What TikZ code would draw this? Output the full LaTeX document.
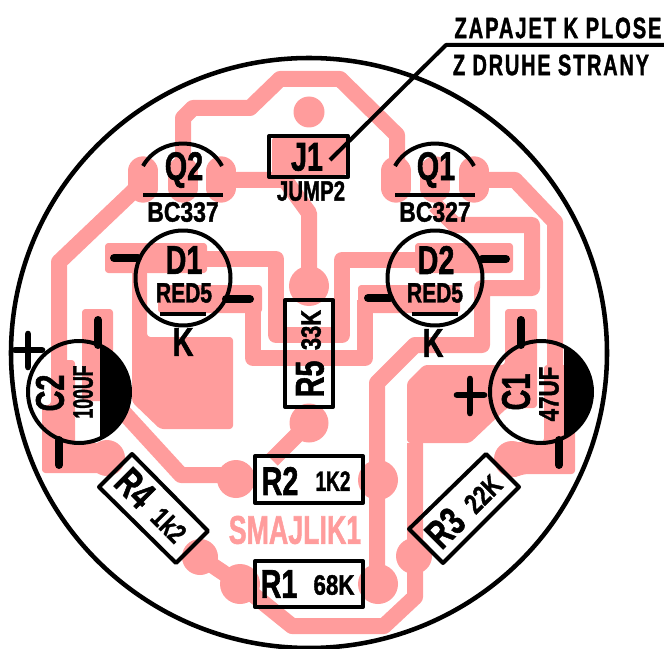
\documentclass[tikz,border=0pt]{standalone}
\usepackage{fontspec}
\setmainfont{Liberation Sans}[BoldFeatures={FakeBold=1.6}]
\newfontfamily\spacedfont{Liberation Sans}[LetterSpace=9,BoldFeatures={FakeBold=1.6}]
\definecolor{copper}{rgb}{1,0.61,0.61}
\tikzset{
  track/.style={draw=copper,line width=12pt,line join=round},
  padfill/.style={fill=copper,rounded corners=2.5pt},
  viapad/.style={fill=copper},
  qpad/.style={draw=copper,line width=22pt,line cap=round},
  outline/.style={draw=black,line width=3pt,line join=round},
  pinlead/.style={draw=black,line width=6pt,line cap=round},
  biglabel/.style={inner sep=0pt,font=\fontsize{30}{30}\selectfont\bfseries,xscale=0.72},
  smalllabel/.style={inner sep=0pt,font=\fontsize{21}{21}\selectfont\bfseries},
}
\begin{document}
\begin{tikzpicture}[x=0.75pt,y=-0.75pt]
\useasboundingbox (0,0) rectangle (664,649);
\draw[track] (183,175) -- (183,118) -- (193,108) -- (250,108) -- (280,79) -- (340,79) -- (397,135) -- (397,175);
\draw[track] (143,182) -- (59,262) -- (59,440);
\draw[track] (221,180) -- (285,180) -- (309,213) -- (309,286);
\draw[track] (474,180) -- (515,180) -- (555,222) -- (555,440);
\draw[track] (435,205) -- (455,225) -- (532,225) -- (532,288) -- (482,288) -- (482,345) -- (415,345) -- (377,383) -- (377,584);
\draw[track] (200,259) -- (276,259) -- (276,335) -- (342,335) -- (342,260) -- (420,260);
\draw[track] (253,300) -- (253,358) -- (365,358) -- (365,300);
\draw[track] (107,395) -- (126,415) -- (181,475) -- (240,475);
\draw[track] (309,423) -- (272,460);
\draw[track] (200,557) -- (240,584) -- (292,626) -- (384,626) -- (415,597) -- (415,443);
\fill[padfill] (105,243) rectangle (207,273);
\fill[padfill] (158,285) rectangle (262,313);
\fill[padfill] (415,243) rectangle (513,273);
\fill[padfill] (358,285) rectangle (460,313);
\fill[padfill] (132,270) -- (147,270) -- (147,337) -- (233,337) -- (233,429) -- (160,429) -- (132,402) -- cycle;
\fill[padfill] (424,365) -- (505,365) -- (505,309) -- (537,309) -- (537,408) -- (507,408) -- (470,443) -- (407,443) -- (407,382) -- cycle;
\fill[padfill] (82,309) rectangle (113,401);
\fill[padfill] (51,360) -- (75,360) -- (75,443) -- (107,443) -- (107,473) -- (42,473) -- (42,405) -- (51,405) -- cycle;
\fill[padfill] (544,365) -- (575,365) -- (575,474) -- (525,474) -- (512,478) -- (512,442) -- (544,442) -- cycle;
\fill[padfill] (272,137) rectangle (347,175);
\fill[viapad] (309,112) circle[radius=15.5];
\fill[viapad] (309,286) circle[radius=20];
\fill[viapad] (309,423) circle[radius=19.5];
\fill[viapad] (236,479) circle[radius=19];
\fill[viapad] (378,480) circle[radius=20];
\fill[viapad] (240,584) circle[radius=20];
\fill[viapad] (378,584) circle[radius=20];
\fill[viapad] (107,458) circle[radius=18];
\fill[viapad] (200,557) circle[radius=18];
\fill[viapad] (512,459) circle[radius=18];
\fill[viapad] (414,556) circle[radius=18];
\draw[qpad] (143,171) -- (143,188);
\draw[qpad] (183,171) -- (183,188);
\draw[qpad] (221,171) -- (221,188);
\draw[qpad] (396,171) -- (396,188);
\draw[qpad] (435,171) -- (435,188);
\draw[qpad] (474,171) -- (474,188);
\node[biglabel,text=copper,xscale=0.93] (brd) at (295,530) {SMAJLIK1};
\draw[outline,line width=3.4pt] (309,353) ellipse[x radius=298,y radius=295];
\draw[outline] (143,166) .. controls (160,136) and (206,136) .. (222,166);
\draw[outline] (395,166) .. controls (412,136) and (458,136) .. (474,166);
\draw[outline] (143,195) -- (223,195);
\draw[outline] (395,195) -- (475,195);
\draw[outline] (183,278) circle[radius=47.5];
\draw[outline] (435,278) circle[radius=47.5];
\draw[outline] (160,314) -- (206,314);
\draw[outline] (412,314) -- (458,314);
\draw[pinlead] (114,258) -- (138,258);
\draw[pinlead] (226,299) -- (250,299);
\draw[pinlead] (482,259) -- (506,259);
\draw[pinlead] (368,298) -- (390,298);
\draw[outline] (269,136) rectangle (348,177);
\draw[outline] (285,300) rectangle (333,407);
\draw[outline] (255,456) rectangle (363,503);
\draw[outline] (255,561) rectangle (363,607);
\draw[outline] (99,487) -- (132,454) -- (208,531) -- (176,563) -- cycle;
\draw[outline] (409,529) -- (486,454) -- (519,487) -- (443,563) -- cycle;
\draw[outline] (79,392) circle[radius=51];
\draw[outline] (541,392) circle[radius=51];
\begin{scope}
\clip (100,335) rectangle (140,450);
\fill (79,392) circle[radius=52];
\end{scope}
\begin{scope}
\clip (564,335) rectangle (600,450);
\fill (541,392) circle[radius=52];
\end{scope}
\draw[pinlead] (98,320) -- (98,345);
\draw[pinlead] (59,440) -- (59,465);
\draw[pinlead] (521,320) -- (521,345);
\draw[pinlead] (559,440) -- (559,465);
\draw[pinlead,line width=5pt] (15,350) -- (42,350);
\draw[pinlead,line width=5pt] (28,334) -- (28,367);
\draw[pinlead,line width=5pt] (457,395) -- (484,395);
\draw[pinlead,line width=5pt] (470,379) -- (470,413);
\coordinate (jumper) at (330,160);
\coordinate (elbow) at (446,45);
\coordinate (rim) at (664,45);
\draw[outline,line width=3pt] (jumper) -- (elbow) -- (rim);
\node[biglabel] (q2) at (184,170) {Q2};
\node[biglabel] (q1) at (436,170) {Q1};
\node[biglabel] (j1) at (307,157) {J1};
\node[biglabel] (d1) at (184,260) {D1};
\node[biglabel] (d2) at (436,260) {D2};
\node[biglabel] (r2) at (280,481) {R2};
\node[biglabel] (r1) at (279,584) {R1};
\node[rotate=90,biglabel] (r5) at (310,379) {R5};
\node[rotate=90,biglabel] (c2) at (50,393) {C2};
\node[rotate=90,biglabel] (c1) at (516,392) {C1};
\node[rotate=-45,biglabel] (r4) at (135,488) {R4};
\node[rotate=45,biglabel] (r3) at (445,528) {R3};
\node[biglabel] (k1) at (183,342) {K};
\node[biglabel] (k2) at (433,343) {K};
\node[smalllabel,xscale=0.82] (bc337) at (183,212) {BC337};
\node[smalllabel,xscale=0.82] (bc327) at (435,212) {BC327};
\node[smalllabel,xscale=0.73] (jump2) at (311,191) {JUMP2};
\node[smalllabel,xscale=0.75] (red1) at (184,293) {RED5};
\node[smalllabel,xscale=0.75] (red2) at (435,293) {RED5};
\node[smalllabel,xscale=0.68] (v1k2) at (333,481) {1K2};
\node[smalllabel,xscale=0.8] (v68k) at (334,585) {68K};
\node[rotate=90,smalllabel,xscale=0.78] (v33k) at (311,330) {33K};
\node[rotate=90,smalllabel,xscale=0.63] (v100) at (83,392) {100UF};
\node[rotate=90,smalllabel,xscale=0.8] (v47) at (549,394) {47UF};
\node[rotate=-45,smalllabel,xscale=0.77] (v1k) at (169,525) {1k2};
\node[rotate=45,smalllabel,xscale=0.78] (v22k) at (483,494) {22K};
\node[smalllabel,font=\fontsize{22}{22}\spacedfont\selectfont\bfseries,xscale=0.69] (note1) at (558,28) {ZAPAJET K PLOSE};
\node[smalllabel,font=\fontsize{22}{22}\spacedfont\selectfont\bfseries,xscale=0.68] (note2) at (551,65) {Z DRUHE STRANY};
\end{tikzpicture}
\end{document}
